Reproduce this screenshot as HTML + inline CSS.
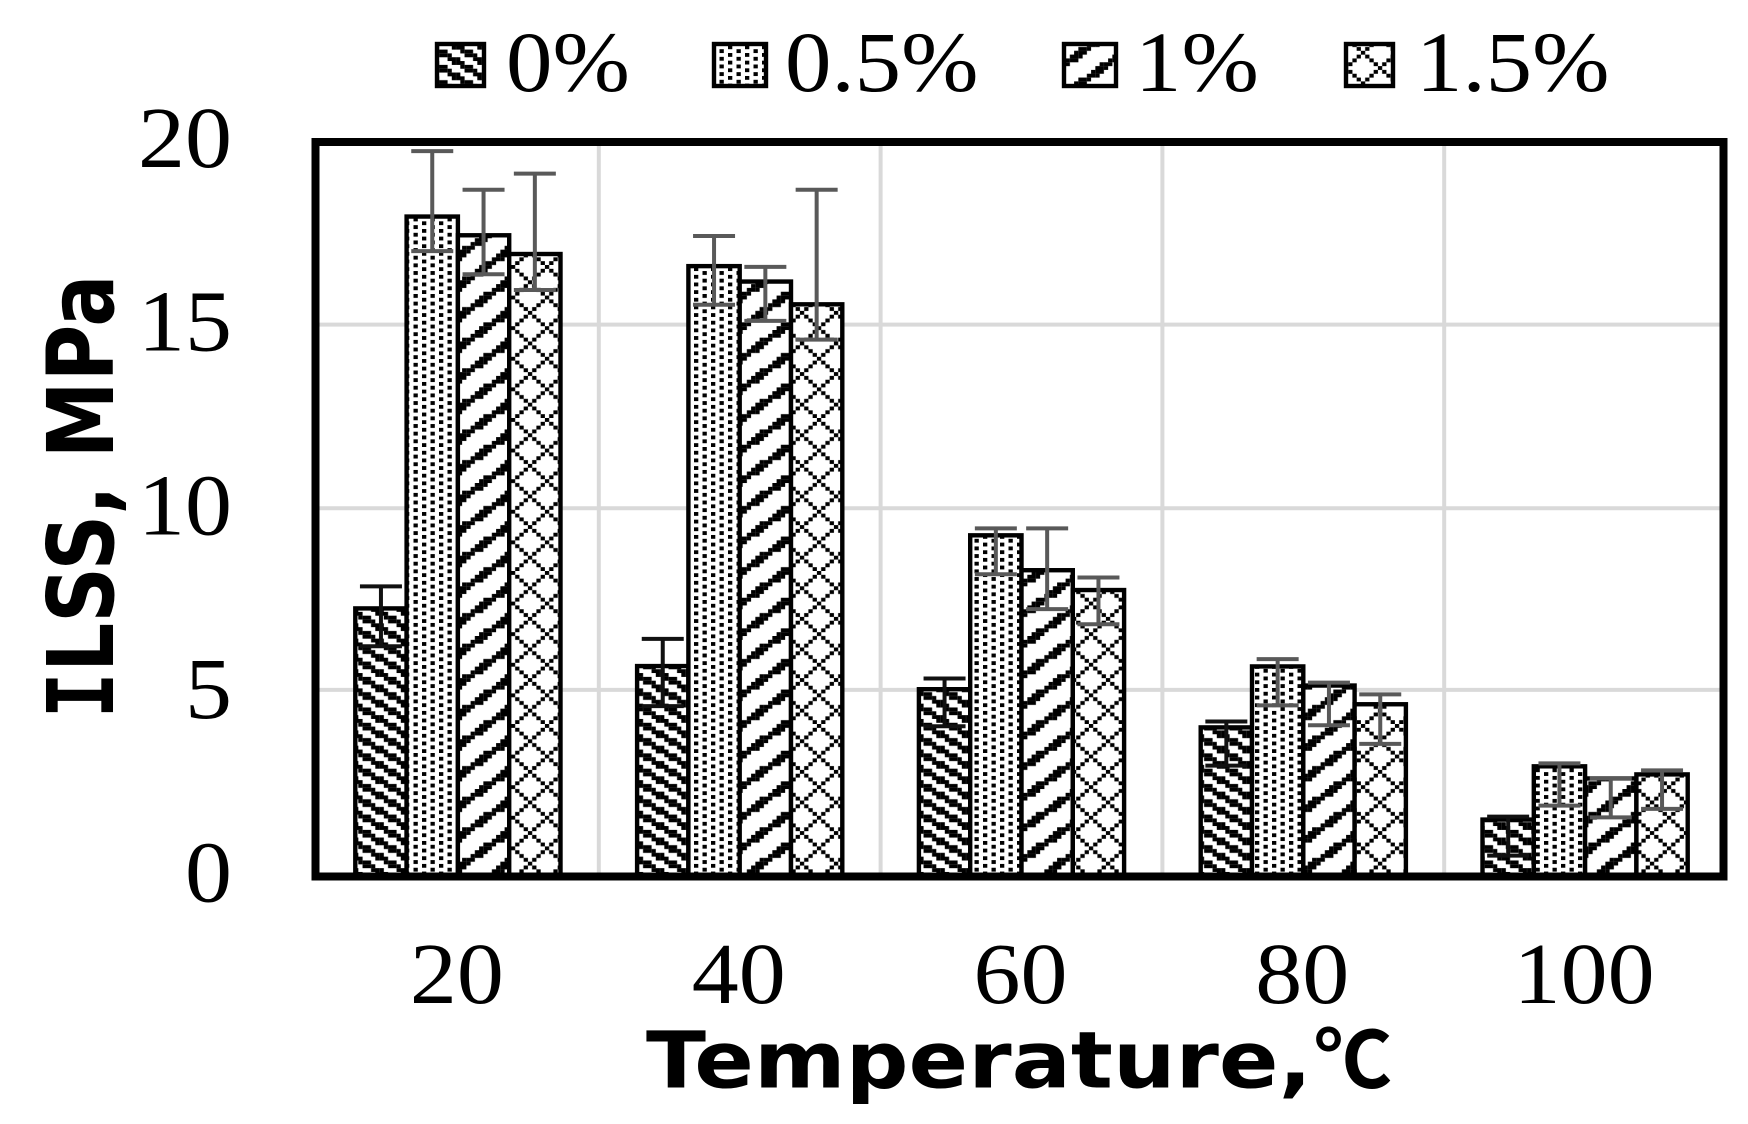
<!DOCTYPE html>
<html>
<head>
<meta charset="utf-8">
<title>ILSS vs Temperature</title>
<style>
html,body{margin:0;padding:0;background:#fff;}
svg{display:block;}
.serif{font-family:"Liberation Serif","Noto Serif CJK SC",serif;fill:#000;}
.bold{font-family:"DejaVu Sans","Liberation Sans",sans-serif;font-weight:bold;fill:#000;}
</style>
</head>
<body>
<svg id="chart" xmlns="http://www.w3.org/2000/svg" width="1748" height="1124" viewBox="0 0 1748 1124">
  <rect x="0" y="0" width="1748" height="1124" fill="#ffffff"/>
  <defs id="defs"></defs>
  <g id="grid"></g>
  <g id="bars"></g>
  <g id="errors"></g>
  <rect x="315.5" y="142" width="1408" height="734.5" fill="none" stroke="#000" stroke-width="8"/>
  <g id="yticks"></g>
  <g id="xticks"></g>
  <g id="legend"></g>
  <text class="bold" font-size="92" transform="translate(113,718.6) rotate(-90)" textLength="444" lengthAdjust="spacingAndGlyphs"><tspan font-family="'DejaVu Sans Mono',monospace">I</tspan>LSS, MPa</text>
  <text class="bold" font-size="78" y="1087.5"><tspan x="646" textLength="666" lengthAdjust="spacingAndGlyphs">Temperature,</tspan><tspan x="1314" textLength="78" lengthAdjust="spacingAndGlyphs" font-family="'Noto Sans CJK SC',sans-serif" font-size="78">℃</tspan></text>
</svg>
<script>
const categories = ['20', '40', '60', '80', '100'];
const seriesNames = ['0%', '0.5%', '1%', '1.5%'];
const yTickLabels = [0, 5, 10, 15, 20];

const values0 = [7.3, 5.73, 5.1, 4.06, 1.55];
const values05 = [17.97, 16.62, 9.29, 5.72, 3.0];
const values1 = [17.46, 16.2, 8.34, 5.2, 2.67];
const values15 = [16.95, 15.58, 7.8, 4.69, 2.78];

const errUp0 = [0.6, 0.74, 0.29, 0.16, 0.08];
const errUp05 = [1.78, 0.82, 0.19, 0.2, 0.08];
const errUp1 = [1.24, 0.4, 1.14, 0.08, 0];
const errUp15 = [2.19, 3.12, 0.34, 0.27, 0.11];

const errDown0 = [1.03, 1.09, 1.01, 1.04, 0.98];
const errDown05 = [0.94, 1.05, 1.06, 1.06, 1.07];
const errDown1 = [1.06, 1.07, 1.06, 1.08, 1.06];
const errDown15 = [0.98, 0.96, 0.93, 1.08, 0.94];

const NS = 'http://www.w3.org/2000/svg';
const plotLeft = 317, plotRight = 1726, y0 = 876.5, y20 = 142, yMax = 20;
const barWidth = 51.3;
const textStretch = 1.08;
const groupStep = (plotRight - plotLeft) / categories.length;

function yScale(v) { return y0 - (v / yMax) * (y0 - y20); }
function groupLeft(i) { return plotLeft + i * groupStep + (groupStep - barWidth * seriesNames.length) / 2; }
function barX(g, s) { return groupLeft(g) + s * barWidth; }

function el(tag, attrs, parent) {
  const e = document.createElementNS(NS, tag);
  for (const k in attrs) e.setAttribute(k, attrs[k]);
  parent.appendChild(e);
  return e;
}
function stretchText(t) {
  t.setAttribute('textLength', t.getComputedTextLength() * textStretch);
  t.setAttribute('lengthAdjust', 'spacingAndGlyphs');
}

const defs = document.getElementById('defs');
function makePattern(id, rows, cellW, cellH, ox, oy) {
  const p = el('pattern', { id: id, patternUnits: 'userSpaceOnUse', width: rows[0].length * cellW, height: rows.length * cellH, x: ox, y: oy }, defs);
  el('rect', { x: 0, y: 0, width: rows[0].length * cellW, height: rows.length * cellH, fill: '#fff' }, p);
  rows.forEach(function (row, r) {
    for (let c = 0; c < row.length; c++) {
      if (row[c] === '1') {
        el('rect', { x: c * cellW, y: r * cellH, width: cellW + 0.05, height: cellH + 0.05, fill: '#000' }, p);
      }
    }
  });
}
const CW = 4.25, CH = 3.825;
makePattern('pat0', ['111000', '001110', '000111', '110001'], CW, CH, 375.3, 810.75);
makePattern('pat1', ['1000', '0010'], CW, CH, 413.5, 707.1);
makePattern('pat2', ['1110000000', '1100000001', '0000000111', '0000001110', '0000011100', '0000111000', '0011100000', '0111000000'], CW, CH, 453.6, 590.1);
makePattern('pat3', ['10000000', '01000001', '00100010', '00010100', '00001000', '00010100', '00100010', '01000001'], CW, CH, 510.9, 662.8);

const valueSets = [values0, values05, values1, values15];
const upSets = [errUp0, errUp05, errUp1, errUp15];
const downSets = [errDown0, errDown05, errDown1, errDown15];

// gridlines
const grid = document.getElementById('grid');
yTickLabels.forEach(function (t) {
  if (t === 0 || t === yMax) return;
  const gy = yScale(t) - (t === 5 ? 3 : 1);
  const l = el('line', { x1: plotLeft, x2: plotRight, y1: gy, y2: gy, stroke: '#d9d9d9', 'stroke-width': 4 }, grid);
  
  
});
categories.forEach(function (c, i) {
  if (i === 0) return;
  const x = plotLeft + i * groupStep;
  const l = el('line', { x1: x, x2: x, y1: y20, y2: y0, stroke: '#d9d9d9', 'stroke-width': 4 }, grid);
  
  
});

// bars
const barsG = document.getElementById('bars');
const errG = document.getElementById('errors');
valueSets.forEach(function (vals, s) {
  vals.forEach(function (v, g) {
    const top = yScale(v);
    const b = el('rect', { x: barX(g, s), y: top, width: barWidth, height: y0 - top, fill: 'url(#pat' + s + ')', stroke: '#000', 'stroke-width': 4.4 }, barsG);
    
    
  });
});
valueSets.forEach(function (vals, s) {
  const color = s === 0 ? '#111111' : '#595959';
  vals.forEach(function (v, g) {
    const cx = barX(g, s) + barWidth / 2;
    const hi = yScale(v + upSets[s][g]);
    const lo = yScale(v - downSets[s][g]);
    const grp = el('g', { stroke: color, 'stroke-width': 4, fill: 'none' }, errG);
    
    
    el('line', { x1: cx, x2: cx, y1: hi, y2: lo }, grp);
    el('line', { x1: cx - 21, x2: cx + 21, y1: hi, y2: hi }, grp);
    el('line', { x1: cx - 21, x2: cx + 21, y1: lo, y2: lo }, grp);
  });
});

// y ticks
const yG = document.getElementById('yticks');
yTickLabels.forEach(function (t) {
  const e = el('text', { x: 232, y: yScale(t) + 25, 'text-anchor': 'end', 'font-size': 87, class: 'serif' }, yG);
  e.textContent = String(t);
  
  
  stretchText(e);
});

// x ticks
const xG = document.getElementById('xticks');
categories.forEach(function (c, i) {
  const e = el('text', { x: plotLeft + (i + 0.5) * groupStep - 1, y: 1003, 'text-anchor': 'middle', 'font-size': 87, class: 'serif' }, xG);
  e.textContent = c;
  
  
  stretchText(e);
});

// legend
const legendSwatchX = [437, 714, 1064, 1346];
const legendSwatchW = [47, 52, 52, 47];
const legendTextX = [506, 785, 1135, 1416];
const legendG = document.getElementById('legend');
seriesNames.forEach(function (name, i) {
  const r = el('rect', { x: legendSwatchX[i], y: 44, width: legendSwatchW[i], height: 42, fill: 'url(#pat' + i + ')', stroke: '#000', 'stroke-width': 4.4 }, legendG);
  
  
  const t = el('text', { x: legendTextX[i], y: 91, 'font-size': 86, class: 'serif' }, legendG);
  t.textContent = name;
  
  
  stretchText(t);
});
</script>
</body>
</html>
